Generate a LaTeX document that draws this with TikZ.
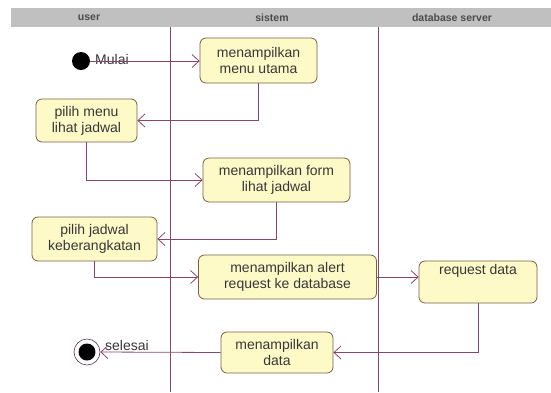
\documentclass[tikz,border=0pt]{standalone}
\usepackage{fontspec}
\setmainfont{Liberation Sans}
\usetikzlibrary{arrows.meta}
\definecolor{flowline}{RGB}{135,70,110}
\definecolor{boxfill}{RGB}{253,250,200}
\definecolor{boxedge}{RGB}{120,95,70}
\definecolor{headgray}{RGB}{192,192,192}
\definecolor{txt}{RGB}{55,55,55}
\begin{document}
\begin{tikzpicture}[x=1pt,y=-1pt,
  actbox/.style={draw=boxedge,fill=boxfill,rounded corners=6pt,line width=0.8pt,
    align=center,text=txt,font=\fontsize{14}{16}\selectfont,inner sep=0pt},
  flow/.style={draw=flowline,line width=0.8pt,-{Straight Barb[length=7pt,width=13pt,line width=0.8pt]}},
  lane/.style={draw=flowline,line width=0.8pt},
  lanehead/.style={font=\bfseries\fontsize{10.5}{12}\selectfont,text=txt!90!white},
  lbl/.style={text=txt,font=\fontsize{14}{16}\selectfont,inner sep=0pt}]
\useasboundingbox (0,0) rectangle (551,392);
% swimlane header and separators
\fill[headgray] (11,8) rectangle (551,27);
\node[lanehead] (hu) at (89,17.5) {user};
\node[lanehead] (hs) at (272,17.5) {sistem};
\node[lanehead] (hd) at (452,17.5) {database server};
\draw[lane] (170,27) -- (170,392);
\draw[lane] (378,27) -- (378,392);
% start and end
\node[circle,fill=black,minimum size=18pt,inner sep=0pt] (start) at (81,61) {};
\node[lbl,anchor=west] (mulai) at (95,59) {Mulai};
\node[circle,draw=flowline!70!black,line width=0.6pt,fill=white,minimum size=26pt,inner sep=0pt] (stop) at (87,352) {};
\node[circle,fill=black,minimum size=17pt,inner sep=0pt] (stopdot) at (stop) {};
\node[lbl,anchor=west] (selesai) at (105,345) {selesai};
% activities
\node[actbox,minimum width=117pt,minimum height=45pt] (menu) at (258.5,60.5) {menampilkan\\menu utama};
\node[actbox,minimum width=101pt,minimum height=43pt] (pmenu) at (86.5,120.5) {pilih menu\\lihat jadwal};
\node[actbox,minimum width=147pt,minimum height=44pt] (form) at (276.5,180) {menampilkan form\\lihat jadwal};
\node[actbox,minimum width=125pt,minimum height=44pt] (pjadwal) at (94.5,239) {pilih jadwal\\keberangkatan};
\node[actbox,minimum width=178pt,minimum height=44pt] (alert) at (287.5,277) {menampilkan alert\\request ke database};
\node[actbox,minimum width=118pt,minimum height=42pt,text height=9pt,text depth=25pt] (req) at (478,282) {request data};
\node[actbox,minimum width=112pt,minimum height=41pt] (data) at (277,352.5) {menampilkan\\data};
% control flow
\draw[flow] (start.east) -- (start.east -| menu.west);
\draw[flow] (menu.south) |- (pmenu.east);
\draw[flow] (pmenu.south) |- (form.west);
\draw[flow] (form.south) |- (pjadwal.east);
\draw[flow] (pjadwal.south) |- (alert.west);
\draw[flow] (alert.east) -- (alert.east -| req.west);
\draw[flow] (req.south) |- (data.east);
\draw[flow] (data.west) -- (stop.east);
\end{tikzpicture}
\end{document}
